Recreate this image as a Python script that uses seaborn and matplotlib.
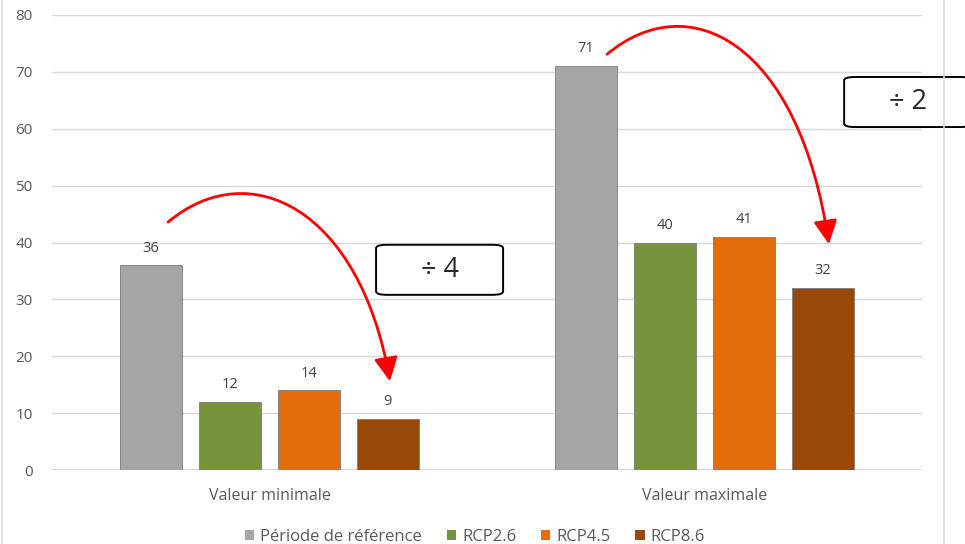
import numpy as np
import pandas as pd
import matplotlib
matplotlib.use("Agg")
import matplotlib.pyplot as plt
import seaborn as sns
from matplotlib.path import Path
from matplotlib.patches import FancyArrowPatch, FancyBboxPatch
from matplotlib.lines import Line2D

# Data
categories = ["Valeur minimale", "Valeur maximale"]
series = ["Période de référence", "RCP2.6", "RCP4.5", "RCP8.6"]
reference = [36, 71]
rcp26 = [12, 40]
rcp45 = [14, 41]
rcp86 = [9, 32]
ratios = ["÷ 4", "÷ 2"]
yticks = [0, 10, 20, 30, 40, 50, 60, 70, 80]

colors = ["#A5A5A5", "#77933C", "#E46C0A", "#984807"]

df = pd.DataFrame({
    "categorie": categories * 4,
    "serie": sum([[s] * 2 for s in series], []),
    "valeur": reference + rcp26 + rcp45 + rcp86,
})

sns.set_theme(style="white")
plt.rcParams["font.family"] = ["Open Sans", "DejaVu Sans"]

fig = plt.figure(figsize=(9.65, 5.44), dpi=100)
ax = fig.add_axes([52 / 965, 74 / 544, 870 / 965, 455 / 544])

sns.barplot(data=df, x="categorie", y="valeur", hue="serie",
            hue_order=series, order=categories, palette=colors,
            width=0.726, gap=0.215, ax=ax, saturation=1,
            edgecolor="#7a7a7a", linewidth=0.6, zorder=3)

for cont in ax.containers:
    ax.bar_label(cont, fmt="%g", padding=7, fontsize=10.5, color="#404040")

ax.set_ylim(0, 80)
ax.set_xlim(-0.5, 1.5)
ax.set_yticks(yticks)
ax.grid(axis="y", color="#D9D9D9", lw=1, zorder=0)
ax.set_axisbelow(True)
for s in ax.spines.values():
    s.set_visible(False)
ax.axhline(0, color="#D0D0D0", lw=1.2, zorder=2)
ax.tick_params(axis="y", length=0, pad=14, labelsize=11, labelcolor="#595959")
ax.tick_params(axis="x", length=0, pad=13, labelsize=11.5, labelcolor="#595959")
ax.set_xlabel("")
ax.set_ylabel("")

# Legend along the bottom edge
sns.move_legend(ax, "center", bbox_to_anchor=(475 / 965, 7 / 544),
                bbox_transform=fig.transFigure, ncol=4, frameon=False,
                title=None, fontsize=12, handlelength=0.55, handleheight=0.55,
                handletextpad=0.35, columnspacing=1.5, labelcolor="#595959")
for h in ax.get_legend().legend_handles:
    h.set_edgecolor("none")


def curved_arrow(start, end, c1, c2):
    path = Path([start, c1, c2, end],
                [Path.MOVETO, Path.CURVE4, Path.CURVE4, Path.CURVE4])
    arr = FancyArrowPatch(path=path, arrowstyle="-|>,head_length=0.9,head_width=0.45",
                          mutation_scale=16, color="#FF0000", lw=2,
                          transform=ax.transData, clip_on=False, zorder=6)
    ax.add_patch(arr)


# Reference -> RCP8.6 reductions
curved_arrow((-0.233, 43.6), (0.277, 15.6), (-0.045, 55.6), (0.208, 45.9))
curved_arrow((0.776, 73.1), (1.286, 39.7), (0.964, 85.1), (1.217, 75.4))

# Ratio boxes
boxes = [(0.245, 30.8), (1.321, 60.3)]
bw, bh = 0.292, 8.8
for (bx, by), txt in zip(boxes, ratios):
    box = FancyBboxPatch((bx, by), bw, bh,
                         boxstyle="round,pad=0,rounding_size=0.025",
                         mutation_aspect=bh / bw * 0.8,
                         facecolor="white", edgecolor="black", lw=1.4,
                         transform=ax.transData, clip_on=False, zorder=7)
    ax.add_patch(box)
    ax.text(bx + bw / 2, by + bh / 2, txt, ha="center", va="center",
            fontsize=19.5, color="#262626", zorder=8, clip_on=False)

# Chart frame edges
fig.add_artist(Line2D([2 / 965, 2 / 965], [0, 1], color="#D9D9D9", lw=1.2,
                      transform=fig.transFigure))
fig.add_artist(Line2D([944 / 965, 944 / 965], [0, 1], color="#D9D9D9", lw=1.2,
                      transform=fig.transFigure))

fig.savefig("out.png", dpi=100)
